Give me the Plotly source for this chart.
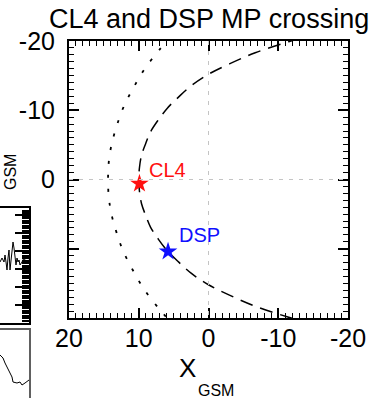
import plotly.graph_objects as go

# Magnetopause model curves in GSM coordinates (Re)
mp_dash_x = [-13.2, -11.5, -6.7, -3.0, 0.0, 2.4, 4.3, 5.9, 7.2, 8.3, 9.0, 9.6, 9.9, 10.0,
             9.9, 9.6, 9.0, 8.3, 7.2, 5.9, 4.3, 2.4, 0.0, -3.0, -6.7, -11.5, -13.2]
mp_dash_y = [-20.4, -19.9, -18.3, -16.7, -15.2, -13.6, -11.9, -10.3, -8.6, -6.9, -5.2, -3.5, -1.7, 0.0,
             1.7, 3.5, 5.2, 6.9, 8.6, 10.3, 11.9, 13.6, 15.2, 16.7, 18.3, 19.9, 20.4]

mp_dot_x = [5.5, 6.9, 9.2, 10.9, 12.25, 13.2, 13.9, 14.3, 14.4,
            14.3, 13.9, 13.2, 12.25, 10.9, 9.2, 6.9, 5.5]
mp_dot_y = [-20.5, -18.9, -15.9, -13.0, -10.3, -7.6, -5.05, -2.5, 0.0,
            2.5, 5.05, 7.6, 10.3, 13.0, 15.9, 18.9, 20.5]

# Spacecraft positions at the magnetopause crossing
sc_names = ["CL4", "DSP"]
sc_x = [9.9, 5.8]
sc_y = [0.6, 10.4]
sc_colors = ["#ff1010", "#1010ff"]

# Neighbouring panels (time series fragments)
p1_t = [0, 2, 4, 5, 6, 7, 8, 9, 10, 11, 12, 13, 14, 15, 16, 17, 18, 19, 20, 22, 24, 26, 29]
p1_v = [61, 65, 61, 68, 61, 53, 65, 73, 53, 61, 73, 81, 75, 67, 58, 65, 61, 63, 58, 61, 65, 61, 63]
p2_t = [0, 3, 5, 7, 8, 10, 12, 13, 17, 20, 22, 25, 29]
p2_v = [43, 40, 35, 31, 30, 25, 21, 16, 15, 16, 13, 15, 18]

FONT = "Liberation Sans, Arial, sans-serif"
W, H = 379, 398

def px_x(p):
    return p / W

def px_y(p):
    return 1 - p / H

fig = go.Figure()

# empty trace so the zero-line overlay subplot gets built
fig.add_trace(go.Scatter(x=[None], y=[None], mode="lines", xaxis="x4", yaxis="y4",
                         showlegend=False, hoverinfo="skip"))
fig.add_trace(go.Scatter(x=mp_dot_x, y=mp_dot_y, mode="lines", line_shape="spline",
                         line=dict(color="black", width=1.8, dash="3px,11px"),
                         xaxis="x", yaxis="y", showlegend=False))
fig.add_trace(go.Scatter(x=mp_dash_x, y=mp_dash_y, mode="lines", line_shape="spline",
                         line=dict(color="black", width=1.5, dash="13px,8px"),
                         xaxis="x", yaxis="y", showlegend=False))
for name, x, y, c in zip(sc_names, sc_x, sc_y, sc_colors):
    fig.add_trace(go.Scatter(x=[x], y=[y], mode="markers",
                             marker=dict(symbol="star", size=14, color=c, line=dict(width=0)),
                             xaxis="x", yaxis="y", showlegend=False, cliponaxis=False))

fig.add_trace(go.Scatter(x=p1_t, y=p1_v, mode="lines", line=dict(color="black", width=1),
                         xaxis="x2", yaxis="y2", showlegend=False))
fig.add_trace(go.Scatter(x=p2_t, y=p2_v, mode="lines", line=dict(color="black", width=1),
                         xaxis="x3", yaxis="y3", showlegend=False))

tick_font = dict(family=FONT, size=25, color="black")
main_dom_x = [px_x(69), px_x(348)]
main_dom_y = [px_y(318), px_y(41)]

fig.update_layout(
    width=W, height=H, margin=dict(l=0, r=0, t=0, b=0, autoexpand=False),
    paper_bgcolor="white", plot_bgcolor="rgba(0,0,0,0)",
    xaxis=dict(domain=main_dom_x, range=[20, -20], anchor="y", automargin=False,
               tickvals=[20, 10, 0, -10, -20], ticktext=["20", "10", "0", "-10", "-20"],
               ticks="inside", ticklen=10, tickwidth=1.5, tickcolor="black",
               minor=dict(dtick=1, ticks="inside", ticklen=5, tickwidth=1.2, tickcolor="black"),
               showline=True, linewidth=2, linecolor="black", mirror="allticks",
               showgrid=False, zeroline=False, tickfont=tick_font, ticklabelstandoff=-3),
    yaxis=dict(domain=main_dom_y, range=[20, -20], anchor="x", automargin=False,
               tickvals=[-20, -10, 0, 10, 20], ticktext=["-20", "-10", "0", "", ""],
               ticks="inside", ticklen=10, tickwidth=1.5, tickcolor="black",
               minor=dict(dtick=1, ticks="inside", ticklen=5, tickwidth=1.2, tickcolor="black"),
               showline=True, linewidth=2, linecolor="black", mirror="allticks",
               showgrid=False, zeroline=False, tickfont=tick_font, ticklabelstandoff=7),
    # zero reference lines
    xaxis4=dict(domain=main_dom_x, range=[20, -20], anchor="y4", automargin=False,
                tickvals=[0], showticklabels=False, ticks="", showline=False,
                showgrid=True, gridcolor="#c4c4c4", gridwidth=1.3, griddash="4px,6px", zeroline=False),
    yaxis4=dict(domain=main_dom_y, range=[20, -20], anchor="x4", automargin=False,
                tickvals=[0], showticklabels=False, ticks="", showline=False,
                showgrid=True, gridcolor="#c4c4c4", gridwidth=1.3, griddash="4px,6px", zeroline=False),
    xaxis2=dict(domain=[0, px_x(29)], range=[0, 29], anchor="y2", automargin=False,
                showline=True, linewidth=1.5, linecolor="black", mirror=True,
                ticks="", showticklabels=False, showgrid=False, zeroline=False),
    yaxis2=dict(domain=[px_y(323), px_y(208)], range=[0, 115], anchor="x2", side="right",
                automargin=False, showline=True, linewidth=2, linecolor="black",
                dtick=18, ticks="inside", ticklen=14, tickwidth=2, tickcolor="black",
                minor=dict(dtick=2.5, ticks="inside", ticklen=7, tickwidth=2, tickcolor="black"),
                showticklabels=False, showgrid=False, zeroline=False),
    xaxis3=dict(domain=[0, px_x(29)], range=[0, 29], anchor="y3", side="top", automargin=False,
                showline=True, linewidth=1.5, linecolor="#606060",
                ticks="", showticklabels=False, showgrid=False, zeroline=False),
    yaxis3=dict(domain=[0, px_y(330)], range=[0, 68], anchor="x3", side="right", automargin=False,
                showline=True, linewidth=1.5, linecolor="#606060",
                ticks="", showticklabels=False, showgrid=False, zeroline=False),
)

annotations = [
    dict(text="CL4 and DSP MP crossing", xref="x domain", yref="paper", x=0.5, y=px_y(19),
         xanchor="center", yanchor="middle", showarrow=False,
         font=dict(family=FONT, size=27, color="black")),
    dict(text="X", xref="paper", yref="paper", x=px_x(187), y=px_y(368),
         xanchor="center", yanchor="middle", showarrow=False,
         font=dict(family=FONT, size=26, color="black")),
    dict(text="GSM", xref="paper", yref="paper", x=px_x(196), y=px_y(390),
         xanchor="left", yanchor="middle", showarrow=False,
         font=dict(family=FONT, size=16, color="black")),
    dict(text="GSM", xref="paper", yref="paper", x=px_x(10), y=px_y(172),
         xanchor="center", yanchor="middle", showarrow=False, textangle=-90,
         font=dict(family=FONT, size=16, color="black")),
]
label_offsets = {"CL4": (8, 14), "DSP": (9, 17)}
for name, x, y, c in zip(sc_names, sc_x, sc_y, sc_colors):
    dx, dy = label_offsets[name]
    annotations.append(dict(text=name, x=x, y=y, xref="x", yref="y", xanchor="left",
                            yanchor="middle", xshift=dx, yshift=dy, showarrow=False,
                            font=dict(family=FONT, size=20, color=c)))
fig.update_layout(annotations=annotations)

fig.write_html("out.html")
